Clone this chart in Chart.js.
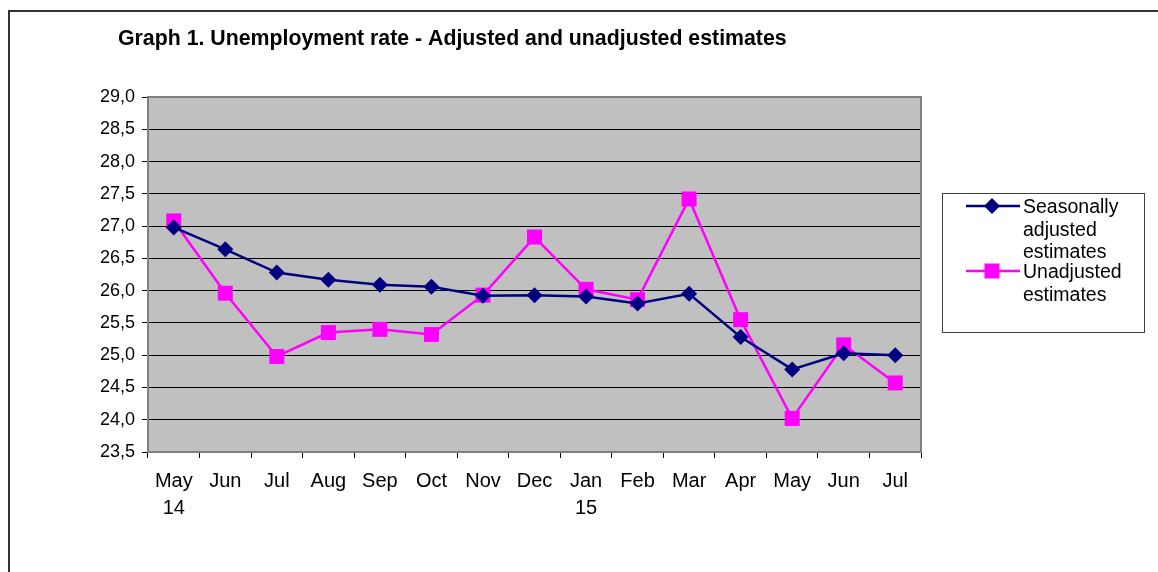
<!DOCTYPE html>
<html>
<head>
<meta charset="utf-8">
<script src="https://cdn.jsdelivr.net/npm/chart.js@4.4.1/dist/chart.umd.min.js"></script>
<style>
html, body { margin: 0; padding: 0; background: #fff; overflow: hidden; }
canvas { display: block; }
</style>
</head>
<body>
<canvas id="rate-chart" width="1158" height="572" style="width:1158px;height:572px"></canvas>
<script>
//////data//////
var months = [['May', '14'], 'Jun', 'Jul', 'Aug', 'Sep', 'Oct', 'Nov', 'Dec',
              ['Jan', '15'], 'Feb', 'Mar', 'Apr', 'May', 'Jun', 'Jul'];
var adjusted = [26.98, 26.64, 26.28, 26.17, 26.09, 26.06, 25.92, 25.93,
                25.91, 25.80, 25.95, 25.28, 24.78, 25.03, 25.00];
var unadjusted = [27.08, 25.96, 24.98, 25.35, 25.40, 25.32, 25.93, 26.83,
                  26.02, 25.86, 27.42, 25.55, 24.02, 25.16, 24.57];
var seriesNames = [['Seasonally', 'adjusted', 'estimates'], ['Unadjusted', 'estimates']];
var yMin = 23.5, yMax = 29.0, yStep = 0.5;

var FONT = '"Liberation Sans", Arial, sans-serif';
var NAVY = '#000080';
var PINK = '#ff00ff';

//////frame, plot background, title, legend//////
var sheetPlugin = {
    id: 'sheet',
    beforeDraw: function (chart) {
        var c = chart.ctx, a = chart.chartArea;
        c.save();
        c.fillStyle = '#fff';
        c.fillRect(0, 0, chart.width, chart.height);
        // outer frame (cut off at right and bottom)
        c.strokeStyle = '#333';
        c.lineWidth = 2;
        c.beginPath();
        c.moveTo(9, chart.height + 2);
        c.lineTo(9, 11);
        c.lineTo(chart.width + 2, 11);
        c.stroke();
        // grey plot area
        c.fillStyle = '#c0c0c0';
        c.fillRect(a.left, a.top, a.right - a.left, a.bottom - a.top);
        // title
        c.fillStyle = '#000';
        c.font = 'bold 21.3px ' + FONT;
        c.textBaseline = 'alphabetic';
        c.fillText('Graph 1. Unemployment rate - Adjusted and unadjusted estimates', 118, 45);
        c.restore();
    },
    beforeDatasetsDraw: function (chart) {
        var c = chart.ctx, a = chart.chartArea;
        c.save();
        c.strokeStyle = '#808080';
        c.lineWidth = 2;
        c.strokeRect(a.left, a.top, a.right - a.left, a.bottom - a.top);
        c.restore();
    },
    afterDraw: function (chart) {
        var c = chart.ctx;
        c.save();
        c.strokeStyle = '#404040';
        c.lineWidth = 1;
        c.strokeRect(942.5, 193.5, 202, 139);
        var rows = [213, 278];
        c.font = '19.5px ' + FONT;
        c.fillStyle = '#000';
        c.textBaseline = 'alphabetic';
        chart.data.datasets.forEach(function (ds, i) {
            var ly = rows[i] - 7;
            c.strokeStyle = ds.borderColor;
            c.lineWidth = 2.5;
            c.beginPath();
            c.moveTo(966, ly);
            c.lineTo(1020, ly);
            c.stroke();
            c.fillStyle = ds.pointBackgroundColor;
            c.beginPath();
            if (ds.pointStyle === 'rectRot') {
                c.moveTo(992, ly - 8); c.lineTo(1000, ly); c.lineTo(992, ly + 8); c.lineTo(984, ly);
            } else {
                c.rect(984.5, ly - 7.5, 15, 15);
            }
            c.closePath();
            c.fill();
            c.fillStyle = '#000';
            seriesNames[i].forEach(function (t, k) {
                c.fillText(t, 1023, rows[i] + k * 22.5);
            });
        });
        c.restore();
    }
};

//////line chart//////
var ctx = document.getElementById('rate-chart').getContext('2d');
var chart = new Chart(ctx, {
    type: 'line',
    data: {
        labels: months,
        datasets: [{
            label: 'Seasonally adjusted estimates',
            data: adjusted,
            borderColor: NAVY,
            backgroundColor: NAVY,
            pointBackgroundColor: NAVY,
            pointBorderColor: NAVY,
            borderWidth: 2.5,
            pointStyle: 'rectRot',
            pointRadius: 8,
            pointBorderWidth: 0,
            tension: 0,
            clip: false
        }, {
            label: 'Unadjusted estimates',
            data: unadjusted,
            borderColor: PINK,
            backgroundColor: PINK,
            pointBackgroundColor: PINK,
            pointBorderColor: PINK,
            borderWidth: 2.5,
            pointStyle: 'rect',
            pointRadius: 10.6,
            pointBorderWidth: 0,
            tension: 0,
            clip: false
        }]
    },
    options: {
        responsive: false,
        animation: false,
        devicePixelRatio: 1,
        layout: { padding: { top: 97, right: 237, bottom: 0, left: 0 } },
        plugins: {
            legend: { display: false },
            title: { display: false },
            tooltip: { enabled: false }
        },
        scales: {
            x: {
                type: 'category',
                offset: true,
                afterFit: function (scale) { scale.height = 120; },
                grid: {
                    offset: true,
                    drawOnChartArea: false,
                    drawTicks: true,
                    tickLength: 6,
                    tickColor: '#000',
                    tickWidth: 1
                },
                border: { color: '#808080', width: 2 },
                ticks: {
                    color: '#000',
                    font: { family: FONT, size: 20, lineHeight: 1.35 },
                    padding: 10,
                    maxRotation: 0,
                    autoSkip: false
                }
            },
            y: {
                min: yMin,
                max: yMax,
                afterFit: function (scale) { scale.width = 148; },
                grid: {
                    color: '#000',
                    lineWidth: 1,
                    drawTicks: true,
                    tickLength: 6,
                    tickColor: '#000'
                },
                border: { color: '#808080', width: 2 },
                ticks: {
                    stepSize: yStep,
                    color: '#000',
                    padding: 7,
                    font: { family: FONT, size: 18 },
                    callback: function (v) { return v.toFixed(1).replace('.', ','); }
                }
            }
        }
    },
    plugins: [sheetPlugin]
});
</script>
</body>
</html>
